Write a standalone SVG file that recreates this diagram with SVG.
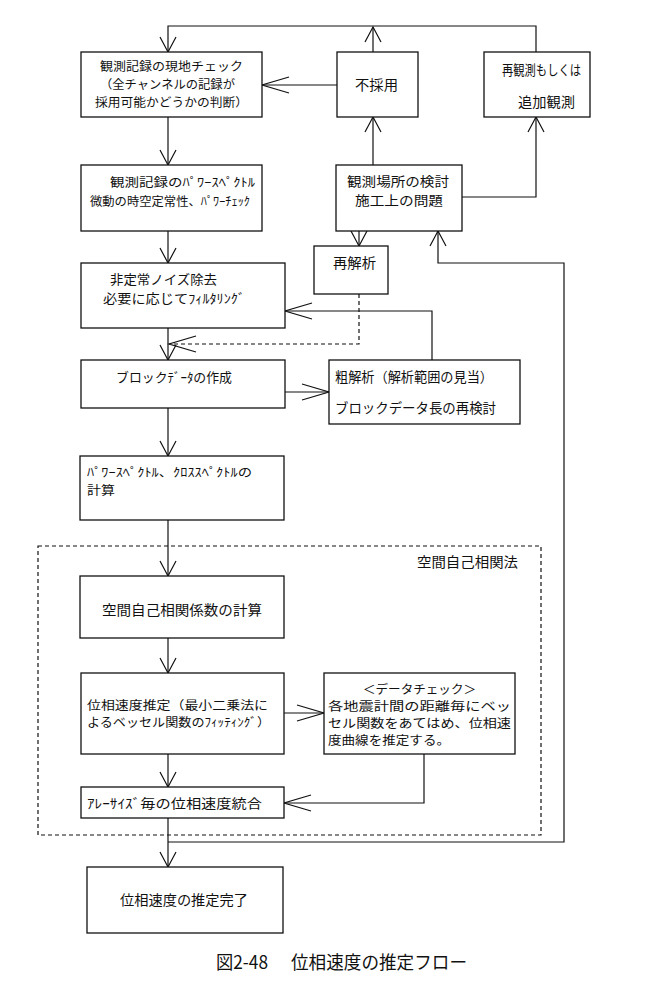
<svg xmlns="http://www.w3.org/2000/svg" width="649" height="993" viewBox="0 0 649 993">
<style>
.box{fill:#fff;stroke:#111;stroke-width:1.3}
.ln{fill:none;stroke:#111;stroke-width:1.2}
.dl{fill:none;stroke:#111;stroke-width:1.2;stroke-dasharray:4,3}
text{font-family:"Noto Sans CJK JP","Noto Sans",sans-serif;font-size:12px;fill:#111}
.mid{font-size:13px}
.big{font-size:14px}
.cap{font-size:18px}
</style>
<defs>
<marker id="av" markerUnits="userSpaceOnUse" markerWidth="40" markerHeight="40" refX="0" refY="0" viewBox="-30 -20 40 40" orient="auto" overflow="visible">
<path d="M-15,-8 L0,0 L-15,8" fill="none" stroke="#111" stroke-width="1.2"/>
</marker>
<marker id="ah" markerUnits="userSpaceOnUse" markerWidth="40" markerHeight="40" refX="0" refY="0" viewBox="-30 -20 40 40" orient="auto" overflow="visible">
<path d="M-27,-8 L0,0 L-27,8" fill="none" stroke="#111" stroke-width="1.2"/>
</marker>
</defs>
<rect width="649" height="993" fill="#fff"/>

<g id="connectors">
<polyline class="ln" points="536,52 536,26 168,26 168,52" marker-end="url(#av)"/>
<line class="ln" x1="373" y1="52" x2="373" y2="27" marker-end="url(#av)"/>
<line class="ln" x1="337" y1="85" x2="262" y2="85" marker-end="url(#ah)"/>
<line class="ln" x1="168" y1="117" x2="168" y2="165" marker-end="url(#av)"/>
<line class="ln" x1="373" y1="165" x2="373" y2="117" marker-end="url(#av)"/>
<polyline class="ln" points="462,197 536,197 536,117" marker-end="url(#av)"/>
<line class="ln" x1="359" y1="231" x2="359" y2="246" marker-end="url(#av)"/>
<line class="ln" x1="168" y1="231" x2="168" y2="263" marker-end="url(#av)"/>
<polyline class="ln" points="432,360 432,311 285,311" marker-end="url(#ah)"/>
<polyline class="dl" points="359,294 359,344 169,344" marker-end="url(#ah)"/>
<line class="ln" x1="168" y1="328" x2="168" y2="360" marker-end="url(#av)"/>
<line class="ln" x1="285" y1="392" x2="329" y2="392" marker-end="url(#ah)"/>
<line class="ln" x1="168" y1="408" x2="168" y2="456" marker-end="url(#av)"/>
<line class="ln" x1="168" y1="520" x2="168" y2="576" marker-end="url(#av)"/>
<line class="ln" x1="168" y1="638" x2="168" y2="673" marker-end="url(#av)"/>
<line class="ln" x1="284" y1="713" x2="324" y2="713" marker-end="url(#ah)"/>
<polyline class="ln" points="424,754 424,803 284,803" marker-end="url(#ah)"/>
<line class="ln" x1="168" y1="754" x2="168" y2="787" marker-end="url(#av)"/>
<line class="ln" x1="168" y1="818" x2="168" y2="867" marker-end="url(#av)"/>
<polyline class="ln" points="168,842 564,842 564,263 438,263 438,231" marker-end="url(#av)"/>
</g>

<g id="group-spac">
<rect class="dl" x="38" y="546" width="503" height="289"/>
<text class="big" x="417" y="567" textLength="101" lengthAdjust="spacingAndGlyphs">空間自己相関法</text>
</g>

<g id="n1">
<rect class="box" x="81" y="52" width="181" height="65"/>
<text x="100" y="71" textLength="143" lengthAdjust="spacingAndGlyphs">観測記録の現地チェック</text>
<text x="100" y="89" textLength="135" lengthAdjust="spacingAndGlyphs">（全チャンネルの記録が</text>
<text x="95" y="107" textLength="153" lengthAdjust="spacingAndGlyphs">採用可能かどうかの判断）</text>
</g>
<g id="n2">
<rect class="box" x="81" y="165" width="181" height="66"/>
<text x="110" y="187" textLength="145" lengthAdjust="spacingAndGlyphs">観測記録のﾊﾟﾜｰｽﾍﾟｸﾄﾙ</text>
<text x="90" y="206" textLength="160" lengthAdjust="spacingAndGlyphs">微動の時空定常性、ﾊﾟﾜｰﾁｪｯｸ</text>
</g>
<g id="n3">
<rect class="box" x="337" y="52" width="81" height="65"/>
<text class="big" x="355" y="90" textLength="43" lengthAdjust="spacingAndGlyphs">不採用</text>
</g>
<g id="n4">
<rect class="box" x="484" y="52" width="106" height="65"/>
<text class="big" x="502" y="75" textLength="79" lengthAdjust="spacingAndGlyphs">再観測もしくは</text>
<text class="big" x="518" y="107" textLength="57" lengthAdjust="spacingAndGlyphs">追加観測</text>
</g>
<g id="n5">
<rect class="box" x="336" y="165" width="126" height="66"/>
<text class="mid" x="347" y="186" textLength="102" lengthAdjust="spacingAndGlyphs">観測場所の検討</text>
<text class="mid" x="355" y="205" textLength="88" lengthAdjust="spacingAndGlyphs">施工上の問題</text>
</g>
<g id="n6">
<rect class="box" x="314" y="246" width="74" height="48"/>
<text class="big" x="333" y="268" textLength="43" lengthAdjust="spacingAndGlyphs">再解析</text>
</g>
<g id="n7">
<rect class="box" x="81" y="263" width="204" height="65"/>
<text class="mid" x="110" y="284" textLength="107" lengthAdjust="spacingAndGlyphs">非定常ノイズ除去</text>
<text class="mid" x="103" y="303" textLength="142" lengthAdjust="spacingAndGlyphs">必要に応じてﾌｨﾙﾀﾘﾝｸﾞ</text>
</g>
<g id="n8">
<rect class="box" x="81" y="360" width="204" height="48"/>
<text class="mid" x="116" y="382" textLength="116" lengthAdjust="spacingAndGlyphs">ブロックﾃﾞｰﾀの作成</text>
</g>
<g id="n9">
<rect class="box" x="329" y="360" width="191" height="64"/>
<text class="big" x="335" y="382" textLength="158" lengthAdjust="spacingAndGlyphs">粗解析（解析範囲の見当）</text>
<text class="big" x="335" y="413" textLength="161" lengthAdjust="spacingAndGlyphs">ブロックデータ長の再検討</text>
</g>
<g id="n10">
<rect class="box" x="80" y="456" width="204" height="64"/>
<text x="87" y="477" textLength="165" lengthAdjust="spacingAndGlyphs">ﾊﾟﾜｰｽﾍﾟｸﾄﾙ、ｸﾛｽｽﾍﾟｸﾄﾙの</text>
<text x="87" y="495" textLength="28" lengthAdjust="spacingAndGlyphs">計算</text>
</g>
<g id="n11">
<rect class="box" x="80" y="576" width="204" height="62"/>
<text class="big" x="102" y="615" textLength="160" lengthAdjust="spacingAndGlyphs">空間自己相関係数の計算</text>
</g>
<g id="n12">
<rect class="box" x="81" y="673" width="203" height="81"/>
<text x="87" y="710" textLength="181" lengthAdjust="spacingAndGlyphs">位相速度推定（最小二乗法に</text>
<text x="87" y="727" textLength="183" lengthAdjust="spacingAndGlyphs">よるベッセル関数のﾌｨｯﾃｨﾝｸﾞ）</text>
</g>
<g id="n13">
<rect class="box" x="324" y="673" width="191" height="81"/>
<text x="363" y="694" textLength="113" lengthAdjust="spacingAndGlyphs">＜データチェック＞</text>
<text x="328" y="711" textLength="183" lengthAdjust="spacingAndGlyphs">各地震計間の距離毎にベッ</text>
<text x="328" y="728" textLength="183" lengthAdjust="spacingAndGlyphs">セル関数をあてはめ、位相速</text>
<text x="328" y="745" textLength="122" lengthAdjust="spacingAndGlyphs">度曲線を推定する。</text>
</g>
<g id="n14">
<rect class="box" x="81" y="787" width="203" height="31"/>
<text class="mid" x="87" y="808" textLength="175" lengthAdjust="spacingAndGlyphs">ｱﾚｰｻｲｽﾞ毎の位相速度統合</text>
</g>
<g id="n15">
<rect class="box" x="87" y="867" width="196" height="66"/>
<text class="big" x="120" y="905" textLength="128" lengthAdjust="spacingAndGlyphs">位相速度の推定完了</text>
</g>
<g id="caption">
<text class="cap" x="216" y="969" textLength="52" lengthAdjust="spacingAndGlyphs">図2-48</text>
<text class="cap" x="291" y="969" textLength="176" lengthAdjust="spacingAndGlyphs">位相速度の推定フロー</text>
</g>
</svg>
